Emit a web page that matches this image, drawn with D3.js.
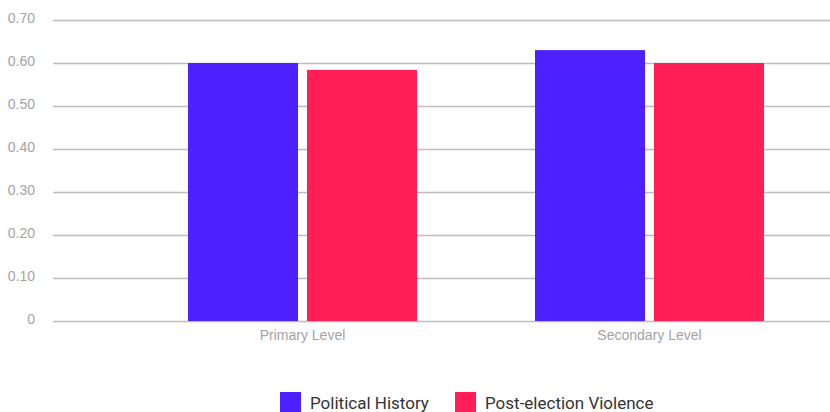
<!DOCTYPE html>
<html>
<head>
<meta charset="utf-8">
<script src="https://cdn.jsdelivr.net/npm/d3@7"></script>
<style>
  html, body { margin: 0; padding: 0; background: #fff; }
  svg { display: block; font-family: Roboto, "Noto Sans", sans-serif; }
</style>
</head>
<body>
<svg id="chart" width="830" height="412"></svg>
<script>
// Education level groups and the two indicator series
const categories = ["Primary Level", "Secondary Level"];
const seriesNames = ["Political History", "Post-election Violence"];
const politicalHistory = [0.60, 0.63];
const postElectionViolence = [0.584, 0.60];
const tickValues = [0, 0.1, 0.2, 0.3, 0.4, 0.5, 0.6, 0.7];
const tickLabels = ["0", "0.10", "0.20", "0.30", "0.40", "0.50", "0.60", "0.70"];
const colors = ["#4D21FF", "#FF1E56"];

const seriesValues = [politicalHistory, postElectionViolence];

const svg = d3.select("#chart");
const gridLeft = 53, gridRight = 830;
const groupWidth = 229;

const y = d3.scaleLinear().domain([0, 0.7]).range([321, 20]);

const x0 = d3.scaleBand().domain(categories).range([129, 823]).paddingInner(0).paddingOuter(0);
const x1 = d3.scaleBand().domain(seriesNames).range([0, groupWidth]).paddingInner(9 / 119);

// Horizontal gridlines with value labels
const yAxis = d3.axisLeft(y).tickValues(tickValues)
  .tickFormat((d, i) => tickLabels[i])
  .tickSize(-(gridRight - gridLeft)).tickPadding(18);

const gy = svg.append("g").attr("transform", `translate(${gridLeft},0)`).call(yAxis);
gy.select(".domain").remove();
gy.selectAll(".tick line").attr("stroke", "#bdbdbd").attr("stroke-width", 1.5);
gy.selectAll(".tick text").attr("fill", "#a3a3a3").attr("font-size", 14)
  .attr("font-weight", 300).attr("dy", "0.15em");

// Bars
const groups = svg.append("g").selectAll("g")
  .data(categories)
  .join("g")
  .attr("transform", d => `translate(${x0(d) + (x0.bandwidth() - groupWidth) / 2},0)`);

groups.selectAll("rect")
  .data((d, ci) => seriesNames.map((s, si) => ({ s, v: seriesValues[si][ci], si })))
  .join("rect")
  .attr("x", d => x1(d.s))
  .attr("width", x1.bandwidth())
  .attr("y", d => y(d.v))
  .attr("height", d => y(0) - y(d.v))
  .attr("fill", d => colors[d.si]);

// Category labels
const xAxis = d3.axisBottom(x0).tickSize(0).tickPadding(9);
const gx = svg.append("g").attr("transform", `translate(0,${y(0)})`).call(xAxis);
gx.select(".domain").remove();
gx.selectAll(".tick text").attr("fill", "#a3a3a3").attr("font-size", 14).attr("font-weight", 300);

// Legend
const legendItems = [{ x: 280, name: seriesNames[0], c: colors[0] }, { x: 455, name: seriesNames[1], c: colors[1] }];
const lg = svg.append("g");
legendItems.forEach(it => {
  lg.append("rect").attr("x", it.x).attr("y", 392).attr("width", 21).attr("height", 20).attr("fill", it.c);
  lg.append("text").attr("x", it.x + 30).attr("y", 409)
    .attr("font-size", 17).attr("fill", "#333").text(it.name);
});
</script>
</body>
</html>
